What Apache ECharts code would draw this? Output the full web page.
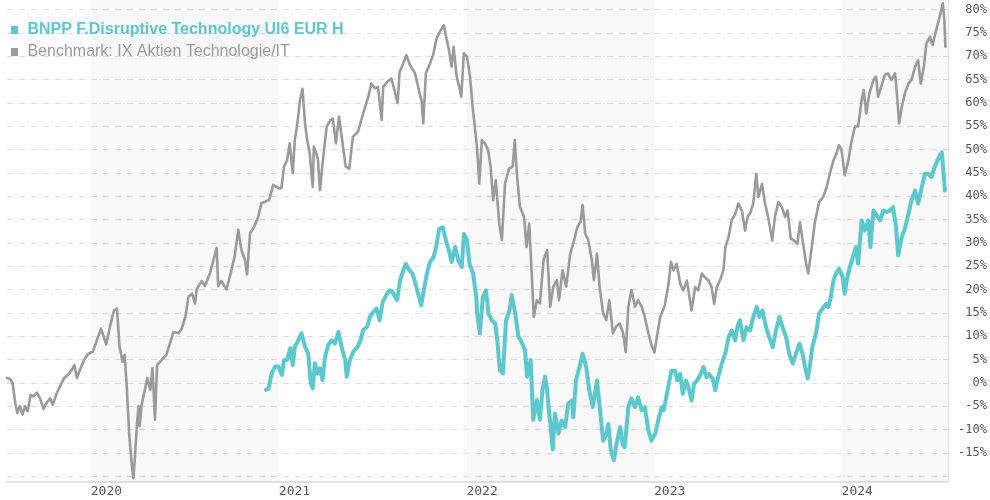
<!DOCTYPE html>
<html>
<head>
<meta charset="utf-8">
<script src="https://cdn.jsdelivr.net/npm/echarts@6/dist/echarts.min.js"></script>
<style>
html, body { margin: 0; padding: 0; background: #fff; }
#main { width: 990px; height: 500px; }
</style>
</head>
<body>
<div id="main"></div>
<script>
var fundName = 'BNPP F.Disruptive Technology UI6 EUR H';
var benchName = 'Benchmark: IX Aktien Technologie/IT';
var years = [2020, 2021, 2022, 2023, 2024];
var shadedYears = [2020, 2022, 2024];

var benchDates = [
  '2019-07-22','2019-07-28','2019-08-02','2019-08-07','2019-08-11','2019-08-16','2019-08-21','2019-08-26','2019-08-31',
  '2019-09-06','2019-09-11','2019-09-18','2019-09-24','2019-10-01','2019-10-07','2019-10-14','2019-10-19','2019-10-27',
  '2019-11-02','2019-11-10','2019-11-18','2019-11-25','2019-11-30','2019-12-05','2019-12-11','2019-12-19','2019-12-27',
  '2020-01-05','2020-01-13','2020-01-21','2020-01-31','2020-02-08','2020-02-15','2020-02-21','2020-02-26','2020-03-03',
  '2020-03-07','2020-03-11','2020-03-16','2020-03-21','2020-03-24','2020-03-27','2020-03-31','2020-04-03','2020-04-05',
  '2020-04-09','2020-04-16','2020-04-20','2020-04-26','2020-04-30','2020-05-05','2020-05-09','2020-05-18','2020-05-27',
  '2020-06-03','2020-06-10','2020-06-20','2020-06-26','2020-07-03','2020-07-09','2020-07-16','2020-07-22','2020-07-25',
  '2020-08-04','2020-08-10','2020-08-20','2020-08-26','2020-09-02','2020-09-05','2020-09-11','2020-09-21','2020-09-28',
  '2020-10-07','2020-10-14','2020-10-20','2020-10-27','2020-10-31','2020-11-06','2020-11-13','2020-11-22','2020-11-28',
  '2020-12-05','2020-12-13','2020-12-21','2020-12-31','2021-01-06','2021-01-11','2021-01-17','2021-01-22','2021-01-28',
  '2021-02-01','2021-02-06','2021-02-11','2021-02-16','2021-02-21','2021-02-25','2021-03-02','2021-03-06','2021-03-08',
  '2021-03-10','2021-03-15','2021-03-18','2021-03-22','2021-03-27','2021-04-04','2021-04-11','2021-04-16','2021-04-22',
  '2021-04-28','2021-05-05','2021-05-11','2021-05-18','2021-05-25','2021-06-04','2021-06-14','2021-06-24','2021-06-30',
  '2021-07-07','2021-07-13','2021-07-20','2021-07-23','2021-07-31','2021-08-08','2021-08-14','2021-08-20','2021-08-24',
  '2021-08-31','2021-09-06','2021-09-13','2021-09-23','2021-09-29','2021-10-06','2021-10-09','2021-10-14','2021-10-22',
  '2021-10-28','2021-11-04','2021-11-10','2021-11-18','2021-11-23','2021-11-28','2021-12-03','2021-12-07','2021-12-13',
  '2021-12-18','2021-12-22','2021-12-27','2022-01-02','2022-01-08','2022-01-13','2022-01-17','2022-01-22','2022-01-26',
  '2022-01-31','2022-02-06','2022-02-12','2022-02-17','2022-02-22','2022-02-27','2022-03-06','2022-03-11','2022-03-17',
  '2022-03-25','2022-04-01','2022-04-05','2022-04-09','2022-04-15','2022-04-23','2022-04-28','2022-05-03','2022-05-08',
  '2022-05-12','2022-05-18','2022-05-24','2022-05-31','2022-06-07','2022-06-13','2022-06-19','2022-06-26','2022-06-30',
  '2022-07-07','2022-07-14','2022-07-22','2022-07-28','2022-08-05','2022-08-11','2022-08-15','2022-08-20','2022-08-26',
  '2022-09-02','2022-09-06','2022-09-12','2022-09-17','2022-09-24','2022-09-30','2022-10-06','2022-10-13','2022-10-19',
  '2022-10-26','2022-11-02','2022-11-07','2022-11-12','2022-11-18','2022-11-25','2022-12-01','2022-12-08','2022-12-14',
  '2022-12-21','2022-12-27','2023-01-02','2023-01-06','2023-01-13','2023-01-22','2023-01-29','2023-02-03','2023-02-08',
  '2023-02-14','2023-02-21','2023-02-27','2023-03-06','2023-03-15','2023-03-22','2023-03-28','2023-04-04','2023-04-10',
  '2023-04-17','2023-04-23','2023-04-28','2023-05-03','2023-05-09','2023-05-16','2023-05-20','2023-05-26','2023-06-01',
  '2023-06-08','2023-06-14','2023-06-21','2023-06-27','2023-07-02','2023-07-08','2023-07-13','2023-07-19','2023-07-23',
  '2023-07-30','2023-08-05','2023-08-11','2023-08-19','2023-08-24','2023-08-31','2023-09-07','2023-09-13','2023-09-18',
  '2023-09-24','2023-09-30','2023-10-07','2023-10-12','2023-10-18','2023-10-24','2023-10-28','2023-11-04','2023-11-10',
  '2023-11-18','2023-11-26','2023-12-03','2023-12-09','2023-12-16','2023-12-22','2023-12-27','2024-01-01','2024-01-07',
  '2024-01-14','2024-01-20','2024-01-27','2024-02-02','2024-02-09','2024-02-13','2024-02-18','2024-02-24','2024-03-03',
  '2024-03-08','2024-03-12','2024-03-19','2024-03-25','2024-03-31','2024-04-07','2024-04-14','2024-04-18','2024-04-22',
  '2024-04-27','2024-05-03','2024-05-10','2024-05-16','2024-05-23','2024-05-29','2024-06-03','2024-06-09','2024-06-14',
  '2024-06-21','2024-06-26','2024-07-03','2024-07-09','2024-07-16','2024-07-19','2024-07-21'
];
var benchValues = [
  1.0, 0.8, -0.1, -4.3, -6.5, -5.0, -6.8, -5.0, -6.1,
  -2.6, -2.9, -2.1, -3.3, -5.6, -4.3, -3.3, -4.7, -2.2,
  -0.8, 1.0, 1.7, 2.8, 3.8, 1.0, 2.8, 4.9, 6.2,
  6.7, 9.1, 11.6, 8.2, 12.3, 15.5, 15.9, 7.7, 4.5,
  6.0, -0.8, -11.4, -17.8, -20.5, -15.7, -8.6, -5.0, -9.3,
  -4.7, -1.1, 1.0, -1.5, 3.1, -7.9, 3.8, 4.9, 6.0,
  8.4, 10.9, 10.6, 11.6, 14.1, 18.4, 19.1, 17.0, 20.0,
  21.8, 20.7, 23.5, 26.0, 28.9, 20.7, 21.8, 20.0, 22.9,
  27.1, 32.8, 28.5, 26.4, 23.2, 32.1, 33.2, 35.6, 38.5,
  38.8, 39.2, 42.4, 41.7, 41.7, 46.3, 47.7, 51.3, 44.9,
  52.0, 55.5, 60.5, 63.0, 55.5, 52.0, 49.2, 44.1, 42.0,
  50.6, 49.1, 47.7, 41.3, 47.0, 54.9, 56.3, 56.6, 51.3,
  57.0, 51.3, 46.3, 45.9, 52.7, 53.8, 57.7, 61.3, 64.1,
  63.1, 63.4, 56.3, 63.4, 64.5, 65.2, 62.7, 59.9, 66.6,
  68.4, 70.2, 68.1, 66.3, 63.4, 60.2, 55.6, 66.3, 68.4,
  70.2, 73.8, 75.2, 76.6, 73.8, 71.3, 67.7, 72.0, 65.6,
  63.4, 61.3, 70.6, 69.9, 65.6, 59.1, 55.2, 49.9, 42.7,
  52.0, 51.3, 49.9, 46.3, 39.1, 43.4, 34.0, 30.6, 42.7,
  45.9, 46.3, 52.0, 44.9, 37.7, 35.6, 29.1, 34.1, 23.4,
  14.1, 17.7, 17.0, 26.3, 28.4, 16.3, 20.6, 22.0, 17.7,
  24.1, 20.6, 27.7, 29.9, 33.4, 34.5, 38.1, 32.0, 30.6,
  26.3, 22.0, 27.7, 20.6, 14.9, 13.4, 17.7, 10.6, 12.0,
  12.7, 10.6, 6.6, 16.3, 19.9, 16.3, 17.7, 16.3, 14.1,
  10.6, 8.1, 6.5, 9.5, 14.1, 16.6, 21.0, 25.9, 24.1,
  25.5, 21.2, 19.8, 21.9, 15.5, 20.5, 19.8, 23.4, 22.6,
  21.9, 20.5, 16.9, 20.5, 21.9, 24.1, 29.1, 31.2, 34.8,
  36.2, 38.4, 36.9, 32.6, 35.5, 36.6, 38.4, 44.8, 39.8,
  42.6, 38.4, 35.5, 30.5, 35.5, 38.7, 37.6, 35.5, 36.9,
  30.9, 30.5, 29.8, 34.4, 29.8, 25.5, 23.4, 29.1, 34.4,
  38.7, 39.8, 41.9, 44.8, 47.6, 49.1, 50.9, 49.8, 44.5,
  47.5, 51.6, 54.9, 54.9, 60.6, 62.7, 57.7, 62.0, 64.9,
  65.6, 61.3, 63.8, 65.9, 66.3, 64.9, 66.3, 61.3, 55.6,
  59.1, 62.0, 64.1, 64.9, 67.7, 69.1, 64.1, 67.7, 72.7,
  74.1, 72.4, 75.6, 78.1, 81.3, 77.7, 72.0
];

var fundDates = [
  '2020-12-07','2020-12-12','2020-12-18','2020-12-25','2020-12-31','2021-01-07','2021-01-11','2021-01-17','2021-01-23',
  '2021-01-28','2021-02-01','2021-02-08','2021-02-14','2021-02-21','2021-02-27','2021-03-04','2021-03-08','2021-03-12',
  '2021-03-17','2021-03-22','2021-03-27','2021-04-01','2021-04-07','2021-04-14','2021-04-20','2021-04-27','2021-05-03',
  '2021-05-10','2021-05-13','2021-05-19','2021-05-26','2021-06-03','2021-06-09','2021-06-14','2021-06-22','2021-06-27',
  '2021-07-04','2021-07-10','2021-07-16','2021-07-22','2021-07-29','2021-08-04','2021-08-10','2021-08-15','2021-08-19',
  '2021-08-25','2021-08-31','2021-09-05','2021-09-12','2021-09-18','2021-09-23','2021-09-29','2021-10-05','2021-10-10',
  '2021-10-16','2021-10-22','2021-10-29','2021-11-03','2021-11-09','2021-11-16','2021-11-22','2021-11-27','2021-12-03',
  '2021-12-10','2021-12-16','2021-12-23','2021-12-27','2022-01-02','2022-01-07','2022-01-14','2022-01-20','2022-01-22',
  '2022-01-27','2022-02-02','2022-02-08','2022-02-13','2022-02-19','2022-02-26','2022-03-02','2022-03-07','2022-03-13',
  '2022-03-19','2022-03-26','2022-03-30','2022-04-06','2022-04-12','2022-04-18','2022-04-25','2022-04-29','2022-05-06',
  '2022-05-11','2022-05-18','2022-05-24','2022-05-29','2022-06-03','2022-06-07','2022-06-09','2022-06-13','2022-06-18',
  '2022-06-22','2022-06-29','2022-07-05','2022-07-12','2022-07-18','2022-07-25','2022-07-28','2022-08-02','2022-08-09',
  '2022-08-15','2022-08-22','2022-08-28','2022-09-04','2022-09-12','2022-09-18','2022-09-24','2022-09-30','2022-10-04',
  '2022-10-09','2022-10-15','2022-10-20','2022-10-27','2022-11-01','2022-11-05','2022-11-12','2022-11-18','2022-11-25',
  '2022-12-01','2022-12-08','2022-12-14','2022-12-21','2022-12-27','2023-01-03','2023-01-09','2023-01-16','2023-01-20',
  '2023-01-26','2023-01-31','2023-02-04','2023-02-11','2023-02-15','2023-02-21','2023-02-26','2023-03-04','2023-03-09',
  '2023-03-15','2023-03-20','2023-03-26','2023-04-02','2023-04-07','2023-04-13','2023-04-18','2023-04-25','2023-04-30',
  '2023-05-04','2023-05-09','2023-05-15','2023-05-21','2023-05-26','2023-06-01','2023-06-08','2023-06-12','2023-06-17',
  '2023-06-24','2023-06-30','2023-07-07','2023-07-13','2023-07-20','2023-07-25','2023-07-31','2023-08-07','2023-08-13',
  '2023-08-20','2023-08-26','2023-09-02','2023-09-08','2023-09-15','2023-09-21','2023-09-28','2023-10-04','2023-10-11',
  '2023-10-17','2023-10-22','2023-10-27','2023-10-31','2023-11-05','2023-11-12','2023-11-18','2023-11-25','2023-12-02',
  '2023-12-06','2023-12-11','2023-12-16','2023-12-21','2023-12-27','2024-01-03','2024-01-07','2024-01-12','2024-01-17',
  '2024-01-24','2024-01-29','2024-02-02','2024-02-09','2024-02-15','2024-02-22','2024-02-26','2024-03-03','2024-03-09',
  '2024-03-16','2024-03-22','2024-03-29','2024-04-04','2024-04-10','2024-04-16','2024-04-20','2024-04-27','2024-05-03',
  '2024-05-10','2024-05-16','2024-05-23','2024-05-29','2024-06-05','2024-06-11','2024-06-17','2024-06-24','2024-06-30',
  '2024-07-07','2024-07-14','2024-07-17','2024-07-20'
];
var fundValues = [
  -1.5, -1.2, 2.0, 3.5, 3.5, 1.7, 4.9, 4.9, 7.4,
  3.8, 7.7, 9.1, 10.6, 7.7, 6.3, 0.0, -1.2, 4.2,
  2.0, 3.1, 0.6, 5.6, 8.1, 9.1, 8.4, 10.9, 7.7,
  4.9, 1.3, 4.9, 6.7, 7.7, 9.1, 11.3, 12.0, 14.1,
  15.2, 15.9, 13.4, 17.3, 18.8, 19.8, 19.5, 18.4, 17.7,
  22.0, 24.1, 25.5, 24.1, 23.4, 21.6, 19.1, 16.6, 19.8,
  23.4, 25.9, 26.9, 29.1, 33.0, 33.3, 30.5, 28.7, 25.9,
  29.1, 26.2, 24.8, 31.9, 30.5, 25.5, 23.4, 18.4, 14.8,
  10.6, 18.4, 19.8, 14.8, 13.4, 12.7, 9.1, 2.7, 2.0,
  13.4, 15.6, 18.8, 14.8, 9.9, 8.8, 7.0, 1.3, 4.9,
  -7.9, -3.7, -7.9, -1.5, 1.3, -1.5, -4.5, -8.6, -14.3,
  -6.6, -10.9, -8.1, -9.5, -4.5, -3.8, -7.4, 0.5, 3.4,
  6.2, 3.4, -1.6, -5.2, 0.5, -5.9, -12.4, -11.0, -8.8,
  -14.5, -16.6, -13.1, -9.5, -13.1, -13.8, -5.2, -3.4, -5.2,
  -3.1, -5.9, -5.2, -10.2, -12.4, -11.0, -8.1, -5.2, -5.9,
  -2.4, 0.5, 2.6, 2.6, 0.5, 1.9, -2.4, 0.5, -0.9,
  -3.8, -0.2, 0.5, 1.9, 3.4, 1.2, 1.9, 0.9, -1.6,
  0.5, 2.6, 4.8, 6.9, 9.8, 11.2, 9.1, 11.9, 13.4,
  9.1, 11.9, 11.2, 14.1, 16.2, 14.1, 15.5, 11.9, 9.8,
  7.6, 11.2, 14.1, 11.9, 9.8, 6.2, 4.1, 6.2, 8.4,
  6.2, 3.4, 0.9, 3.4, 7.6, 10.5, 14.8, 15.9, 16.9,
  16.2, 18.4, 21.9, 23.4, 24.4, 22.6, 19.1, 22.6, 24.8,
  27.3, 29.1, 25.5, 34.8, 32.6, 34.8, 29.1, 36.9, 35.9,
  34.8, 36.9, 36.6, 36.9, 37.6, 33.4, 27.3, 31.2, 33.0,
  36.2, 39.1, 41.2, 38.4, 41.9, 44.8, 44.8, 44.1, 46.2,
  48.0, 49.4, 49.1, 41.2
];

function toTime(s) {
  return new Date(s + 'T00:00:00').getTime();
}

function zip(dates, values) {
  var out = [];
  for (var i = 0; i < dates.length; i++) {
    out.push([toTime(dates[i]), values[i]]);
  }
  return out;
}

var xMin = toTime('2019-07-22');
var xMax = toTime('2024-07-26');

var bands = shadedYears.map(function (y) {
  return [
    { xAxis: toTime(y + '-01-01') },
    { xAxis: Math.min(toTime((y + 1) + '-01-01'), xMax) }
  ];
});

var teal = '#5cc8ce';
var gray = '#9a9a9a';

var myChart = echarts.init(document.getElementById('main'));

var option = {
  animation: false,
  backgroundColor: '#fff',
  grid: {
    left: 7,
    right: 42,
    top: 0,
    bottom: 18,
    containLabel: false
  },
  legend: {
    orient: 'vertical',
    left: 11,
    top: 22,
    padding: 0,
    itemGap: 6,
    icon: 'rect',
    itemWidth: 7,
    itemHeight: 8,
    selectedMode: false,
    formatter: function (n) { return ' ' + n; },
    textStyle: {
      fontFamily: 'Liberation Sans',
      fontSize: 16
    },
    data: [
      { name: fundName, textStyle: { color: teal, fontWeight: 'bold' } },
      { name: benchName, textStyle: { color: gray } }
    ]
  },
  xAxis: {
    type: 'time',
    min: xMin,
    max: xMax,
    axisLine: { show: true, onZero: false, lineStyle: { color: '#e2e2e2', width: 2 } },
    axisTick: { show: false },
    splitLine: { show: false },
    axisLabel: {
      formatter: function (v) {
        var d = new Date(v);
        if (d.getMonth() === 0 && d.getDate() === 1 && years.indexOf(d.getFullYear()) >= 0) {
          return String(d.getFullYear());
        }
        return '';
      },
      hideOverlap: false,
      align: 'left',
      margin: 3,
      color: '#555',
      fontFamily: 'DejaVu Sans Mono',
      fontSize: 13
    }
  },
  yAxis: {
    type: 'value',
    position: 'right',
    min: -21.26,
    max: 82.02,
    minInterval: 5,
    maxInterval: 5,
    splitNumber: 20,
    axisLine: { show: true, lineStyle: { color: '#e2e2e2', width: 1 } },
    axisTick: { show: false },
    splitLine: {
      show: true,
      showMinLine: false,
      showMaxLine: false,
      lineStyle: { color: '#dedede', type: [6, 6], width: 1 }
    },
    axisLabel: {
      showMinLabel: false,
      showMaxLabel: false,
      align: 'right',
      margin: 39,
      color: '#555',
      fontFamily: 'DejaVu Sans Mono',
      fontSize: 12,
      formatter: function (v) {
        if (v < -19 || Math.abs(v - Math.round(v)) > 0.01) return '';
        return v + '%';
      }
    }
  },
  series: [
    {
      name: fundName,
      type: 'line',
      data: zip(fundDates, fundValues),
      showSymbol: false,
      symbol: 'none',
      z: 3,
      color: teal,
      lineStyle: { color: teal, width: 4, join: 'round', cap: 'round' }
    },
    {
      name: benchName,
      type: 'line',
      data: zip(benchDates, benchValues),
      showSymbol: false,
      symbol: 'none',
      z: 2,
      clip: false,
      color: gray,
      lineStyle: { color: gray, width: 2.6, join: 'round', cap: 'round' },
      markArea: {
        silent: true,
        itemStyle: { color: 'rgba(0,0,0,0.026)' },
        data: bands
      }
    }
  ]
};

myChart.setOption(option);
</script>
</body>
</html>
